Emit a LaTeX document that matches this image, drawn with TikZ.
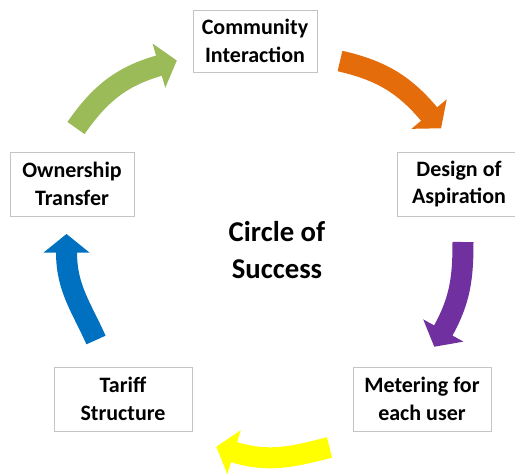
\documentclass[tikz,border=0pt]{standalone}
\usepackage{fontspec}
\setmainfont{Carlito}
\usetikzlibrary{decorations.markings}
\definecolor{cgreen}{HTML}{9BBB59}
\definecolor{corange}{HTML}{E46C0A}
\definecolor{cpurple}{HTML}{7030A0}
\definecolor{cyellow}{HTML}{FFFF00}
\definecolor{cblue}{HTML}{0070C0}
\definecolor{cborder}{HTML}{C4C4C4}
\tikzset{
  stepbox/.style={draw=cborder, line width=0.9pt, fill=white, rectangle, align=center,
    minimum height=64pt, inner sep=0pt,
    font=\bfseries\fontsize{22}{27.5}\selectfont},
  titletext/.style={align=center, font=\bfseries\fontsize{28.7}{37}\selectfont},
  curvearrow/.style={line width=21pt, draw=#1, postaction={decorate},
    decoration={markings, mark=at position 1 with {\fill[#1] (-0.6pt,0) -- (-0.6pt,23pt) -- (18pt,0) -- (-0.6pt,-23pt) -- cycle;}}}
}
\begin{document}
\begin{tikzpicture}[x=1pt,y=1pt]
\useasboundingbox (0,0) rectangle (515,-474);
\node[stepbox, minimum width=124pt, minimum height=62pt] (comm) at (255,-41) {Community\\Interaction};
\node[stepbox, minimum width=124pt] (design) at (459,-184) {Design of\\Aspiration};
\node[stepbox, minimum width=124pt] (owner) at (72,-184) {Ownership\\Transfer};
\node[stepbox, minimum width=138pt] (tariff) at (123,-399) {Tariff\\Structure};
\node[stepbox, minimum width=138pt] (meter) at (422,-399) {Metering for\\each user};
\node[titletext] (title) at (277,-250) {Circle of\\Success};
% arrow ends
\coordinate (g1) at (76,-128);   \coordinate (g2) at (159.5,-65.5);
\coordinate (o1) at (340,-61);   \coordinate (o2) at (429.5,-114.5);
\coordinate (p1) at (463,-242);  \coordinate (p2) at (443,-331);
\coordinate (y1) at (329.5,-447.5); \coordinate (y2) at (233.5,-452);
\coordinate (b1) at (96,-340);   \coordinate (b2) at (66.5,-252);
\draw[curvearrow=cgreen]  (g1) to[out=55,in=196] (g2);
\draw[curvearrow=corange] (o1) to[out=-13,in=130] (o2);
\draw[curvearrow=cpurple] (p1) to[out=-90,in=61] (p2);
\draw[curvearrow=cyellow] (y1) to[out=194,in=-17] (y2);
\draw[curvearrow=cblue]   (b1) to[out=114,in=-90] (b2);
\end{tikzpicture}
\end{document}
